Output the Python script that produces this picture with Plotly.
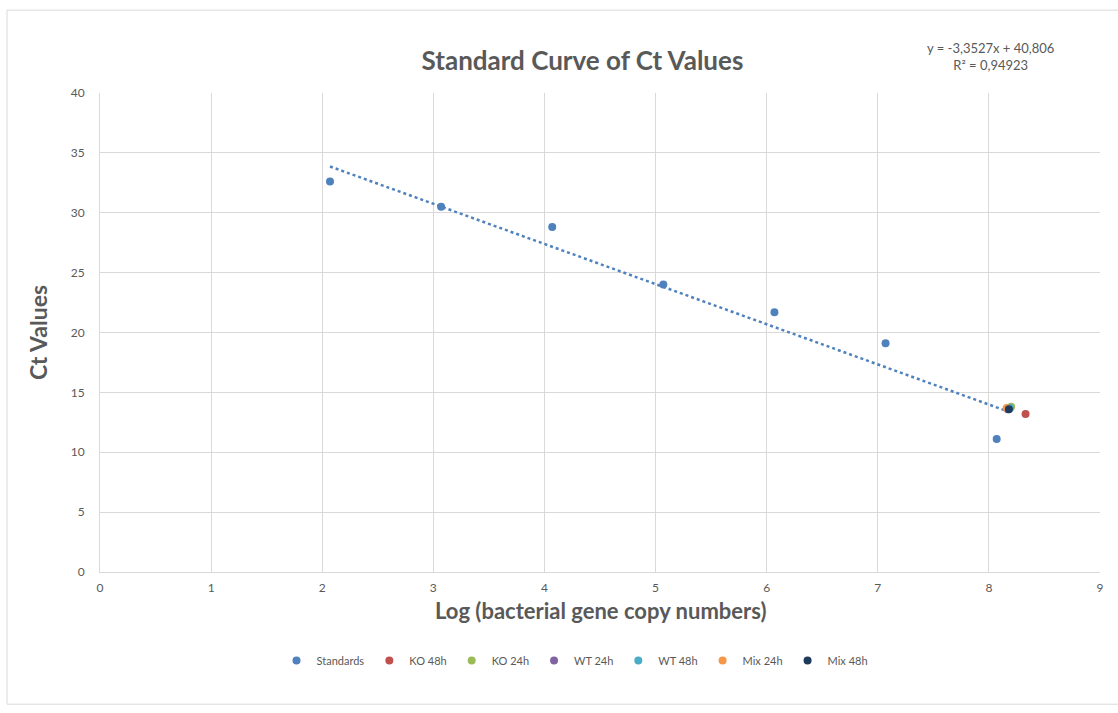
import plotly.graph_objects as go

# Standard dilution series: log copy number vs Ct
std_log = [2.07, 3.07, 4.07, 5.07, 6.07, 7.07, 8.07]
std_ct = [32.6, 30.5, 28.8, 24.0, 21.7, 19.1, 11.1]

# Samples (name, log copy number, Ct, colour)
sample_names = ["KO 48h", "KO 24h", "WT 24h", "WT 48h", "Mix 24h", "Mix 48h"]
sample_log = [8.33, 8.20, 8.17, 8.19, 8.16, 8.18]
sample_ct = [13.2, 13.8, 13.6, 13.7, 13.7, 13.6]
sample_colors = ["#C0504D", "#9BBB59", "#8064A2", "#4BACC6", "#F79646", "#1F3B5C"]

# Linear trendline of the standards
slope = -3.3527
intercept = 40.806
r_squared = 0.94923
trend_x = [2.07, 8.15]
trend_y = [slope * v + intercept for v in trend_x]

FONT = "Lato, 'Open Sans', sans-serif"
GRAY = "#595959"
GRID = "#D9D9D9"

fig = go.Figure()

fig.add_trace(go.Scatter(
    x=std_log, y=std_ct, mode="markers", name="Standards",
    marker=dict(color="#4F81BD", size=8),
))

fig.add_trace(go.Scatter(
    x=trend_x, y=trend_y, mode="lines", showlegend=False,
    line=dict(color="#4F81BD", width=2.5, dash="dot"),
    hoverinfo="skip",
))

for name, xv, yv, col in zip(sample_names, sample_log, sample_ct, sample_colors):
    fig.add_trace(go.Scatter(
        x=[xv], y=[yv], mode="markers", name=name,
        marker=dict(color=col, size=8),
    ))

eq_text = (f"y = {slope:.4f}x + {intercept:.3f}".replace(".", ",")
           + "<br>" + f"R² = {r_squared:.5f}".replace(".", ","))

fig.update_layout(
    width=1118, height=713,
    margin=dict(l=100, r=18, t=93, b=141),
    paper_bgcolor="white", plot_bgcolor="white",
    font=dict(family=FONT, color=GRAY, size=12),
    title=dict(
        text="<b>Standard Curve of Ct Values</b>",
        x=0.521, xanchor="center", y=0.915, yanchor="middle",
        font=dict(family=FONT, size=26, color=GRAY),
    ),
    xaxis=dict(
        range=[0, 9], dtick=1, showgrid=True, gridcolor=GRID, gridwidth=1,
        showline=True, linecolor=GRID, linewidth=1, mirror=False,
        zeroline=False, ticks="", ticklen=0, ticklabelstandoff=5,
        tickfont=dict(size=12, color=GRAY),
    ),
    yaxis=dict(
        range=[0, 40], dtick=5, showgrid=True, gridcolor=GRID, gridwidth=1,
        showline=True, linecolor=GRID, linewidth=1,
        zeroline=False, ticks="", ticklen=0, ticklabelstandoff=12,
        tickfont=dict(size=12, color=GRAY),
        title=dict(text="<b>Ct Values</b>",
                   font=dict(size=23, color=GRAY), standoff=16),
    ),
    legend=dict(
        orientation="h", x=0.475, xanchor="center", y=-0.185, yanchor="middle",
        font=dict(size=11, color=GRAY), itemwidth=30, tracegroupgap=0,
    ),
    annotations=[
        dict(
            text=eq_text, xref="paper", yref="paper",
            x=0.89, y=1.077, xanchor="center", yanchor="middle",
            showarrow=False, font=dict(size=13, color=GRAY), align="center",
        ),
        dict(
            text="<b>Log (bacterial gene copy numbers)</b>",
            xref="paper", yref="paper", x=0.5, y=-0.08,
            xanchor="center", yanchor="middle", showarrow=False,
            font=dict(size=22, color=GRAY),
        ),
    ],
    shapes=[dict(
        type="rect", xref="paper", yref="paper",
        x0=-0.093, x1=1.03, y0=-0.276, y1=1.173,
        line=dict(color="#D9D9D9", width=1), layer="below",
    )],
)

fig.write_html("out.html")
